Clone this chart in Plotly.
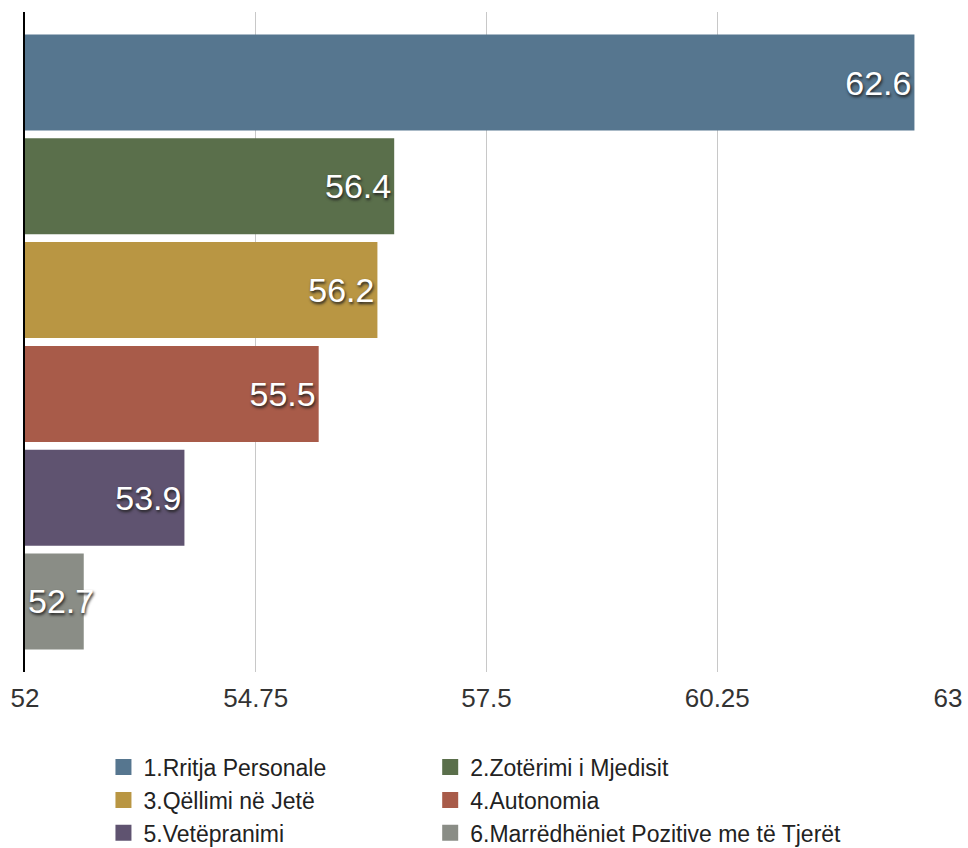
import plotly.graph_objects as go

names = ["1.Rritja Personale", "2.Zotërimi i Mjedisit", "3.Qëllimi në Jetë",
         "4.Autonomia", "5.Vetëpranimi", "6.Marrëdhëniet Pozitive me të Tjerët"]
values = [62.6, 56.4, 56.2, 55.5, 53.9, 52.7]
colors = ["#56768f", "#5a6f4b", "#b99643", "#a85b49", "#5f5370", "#8a8d86"]
ticks = [52, 54.75, 57.5, 60.25, 63]
tick_text = ["52", "54.75", "57.5", "60.25", "63"]
axis_min = 52

fig = go.Figure()
for n, v, c in zip(names, values, colors):
    # short bars: label starts at the axis and runs past the bar end
    anchor = "start" if v - axis_min < 1 else "end"
    fig.add_trace(go.Bar(
        y=[n], x=[v - axis_min], base=axis_min, orientation="h", name=n,
        width=0.925, showlegend=False,
        marker=dict(color=c, line=dict(width=0)),
        text=[f"{v}"], textposition="inside", insidetextanchor=anchor,
        textangle=0, constraintext="none", cliponaxis=False,
        textfont=dict(color="white", size=34, family="Liberation Sans",
                      shadow="1px 2px 3px #222"),
    ))
# legend entries with larger square swatches, odd items left column, even right
for i, (n, c) in enumerate(zip(names, colors)):
    fig.add_trace(go.Scatter(
        x=[None], y=[None], mode="markers", name=n,
        legend="legend" if i % 2 == 0 else "legend2",
        marker=dict(symbol="square", size=20, color=c),
    ))

legend_font = dict(size=23, color="#222", family="Liberation Sans")
fig.update_layout(
    width=968, height=848,
    barmode="overlay",
    plot_bgcolor="white", paper_bgcolor="white",
    margin=dict(l=25, r=20, t=12, b=176, autoexpand=False),
    font=dict(family="Liberation Sans", color="#333"),
    xaxis=dict(range=[52, 63], tickvals=ticks, ticktext=tick_text, automargin=False,
               showgrid=True, gridcolor="#c8c8c8", gridwidth=1, zeroline=False,
               tickfont=dict(size=26, color="#333"), ticks="", ticklabelstandoff=8),
    yaxis=dict(categoryorder="array", categoryarray=names, range=[5.68, -0.68],
               showticklabels=False, showgrid=False, zeroline=False, automargin=False,
               showline=True, linecolor="black", linewidth=2),
    legend=dict(x=0.085, xanchor="left", y=-0.1115, yanchor="top",
                font=legend_font, itemwidth=30, tracegroupgap=0),
    legend2=dict(x=0.439, xanchor="left", y=-0.1115, yanchor="top",
                 font=legend_font, itemwidth=30, tracegroupgap=0),
    showlegend=True,
)

fig.write_html("out.html", config={"displayModeBar": False},
               post_script="document.body.style.margin='0px';")
